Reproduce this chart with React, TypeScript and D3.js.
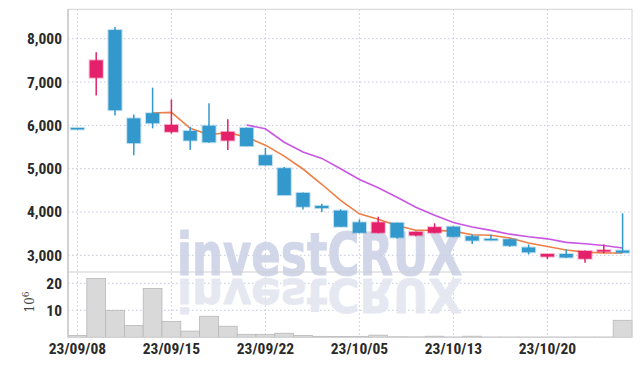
import React from 'react';
import * as d3 from 'd3';

const dates = ['23/09/08','23/09/11','23/09/12','23/09/13','23/09/14','23/09/15','23/09/18','23/09/19','23/09/20','23/09/21','23/09/22','23/09/25','23/09/26','23/09/27','23/10/04','23/10/05','23/10/06','23/10/10','23/10/11','23/10/12','23/10/13','23/10/16','23/10/17','23/10/18','23/10/19','23/10/20','23/10/23','23/10/24','23/10/25','23/10/26'];
const opens  = [5940,7100,8200,6160,6280,5850,5870,5990,5650,5940,5310,5010,4440,4140,4030,3760,3520,3750,3460,3520,3660,3440,3380,3370,3180,2970,3030,2920,3100,3110];
const highs  = [5940,7690,8270,6250,6870,6600,5970,6510,6140,5950,5480,5040,4450,4190,4060,3830,3890,3750,3550,3740,3670,3480,3480,3380,3250,3030,3140,3110,3250,3970];
const lows   = [5940,6690,6230,5310,5930,5810,5430,5600,5430,5520,5080,4390,4060,4000,3660,3520,3510,3390,3440,3510,3420,3260,3350,3200,3020,2910,2940,2830,3050,3060];
const closes = [5940,7500,6350,5590,6050,6010,5650,5610,5850,5520,5080,4390,4120,4090,3660,3520,3760,3410,3540,3650,3430,3340,3350,3220,3070,3030,2950,3100,3120,3060];
const volumes = [0.7,21.8,10.0,4.4,18.1,5.9,2.3,7.8,4.1,1.1,1.1,1.5,0.7,0.35,0.3,0.35,0.8,0.2,0.15,0.4,0.12,0.4,0.1,0.1,0.1,0.1,0.1,0.1,0.1,6.3];
const priceTicks = [3000,4000,5000,6000,7000,8000];
const volTicks = [10,20];
const labelIdx = [0,5,10,15,20,25];

const W = 642, H = 366;
const L = 68, R = 632, TOP = 9.3, MID = 272, BOT = 337.3;

function ma(n: number) {
  return closes.map((_, i) => i < n - 1 ? null : d3.mean(closes.slice(i - n + 1, i + 1)) as number);
}

export default function App() {
  const x = d3.scaleBand<number>().domain(d3.range(dates.length)).range([L, R]).padding(0);
  const bw = x.bandwidth();
  const cx = (i: number) => (x(i) as number) + bw / 2;
  const y = d3.scaleLinear().domain([3000, 8000]).range([255.3, 38.7]);
  const yv = d3.scaleLinear().domain([0, 10]).range([BOT, 310.3]);
  const ma5 = ma(5), ma10 = ma(10);
  const line = d3.line<number | null>().defined(d => d != null).x((_, i) => cx(i)).y(d => y(d as number));
  const font = "'Liberation Sans Narrow','Roboto Condensed','DejaVu Sans Condensed','Arial Narrow',sans-serif";
  const up = '#e5206b', down = '#3399cc';
  const grid = '#c3c8db';
  return (
    <svg width={W} height={H} style={{ position: 'absolute', left: 0, top: 0, background: '#fff' }}>
      <defs>
        <text id="wm" x={177} y={275} textLength={285} lengthAdjust="spacingAndGlyphs"
          fontFamily="'DejaVu Sans','Liberation Sans',sans-serif" fontWeight={700} fontSize={58}>investCRUX</text>
      </defs>
      <rect x={0} y={0} width={W} height={H} fill="#fff" />
      {/* grid */}
      {priceTicks.map(t => (
        <line key={'hg' + t} x1={L} x2={R} y1={y(t)} y2={y(t)} stroke={grid} strokeDasharray="1.5,2.5" strokeWidth={1} />
      ))}
      {volTicks.map(t => (
        <line key={'vg' + t} x1={L} x2={R} y1={yv(t)} y2={yv(t)} stroke={grid} strokeDasharray="1.5,2.5" strokeWidth={1} />
      ))}
      {labelIdx.map(i => (
        <line key={'xg' + i} x1={cx(i)} x2={cx(i)} y1={TOP} y2={BOT} stroke={grid} strokeDasharray="1.5,2.5" strokeWidth={1} />
      ))}
      {/* watermark */}
      <use href="#wm" fill="#cdd3e6" stroke="#cdd3e6" strokeWidth={1} opacity={0.9} />
      <g transform="translate(0,277) scale(1,-0.8) translate(0,-277)">
        <use href="#wm" fill="#e3e6f0" stroke="#e3e6f0" strokeWidth={1} opacity={0.9} />
      </g>
      {/* volume bars */}
      {volumes.map((v, i) => (
        <rect key={'v' + i} x={x(i) as number} width={bw} y={yv(v)} height={BOT - yv(v)} fill="#d9d9d9" stroke="#b8b8b8" strokeWidth={0.8} />
      ))}
      {/* MA lines */}
      <path d={line(ma10) || ''} fill="none" stroke="#c955e3" strokeWidth={1.6} />
      <path d={line(ma5) || ''} fill="none" stroke="#ee7f45" strokeWidth={1.6} />
      {/* candles */}
      {dates.map((_, i) => {
        const o = opens[i], c = closes[i], h = highs[i], l = lows[i];
        const col = c > o ? up : down;
        const top = y(Math.max(o, c)), bot = y(Math.min(o, c));
        const bwid = bw * 0.7;
        return (
          <g key={'c' + i}>
            <line x1={cx(i)} x2={cx(i)} y1={y(h)} y2={y(l)} stroke={col} strokeWidth={1.5} />
            <rect x={cx(i) - bwid / 2} width={bwid} y={top} height={Math.max(bot - top, 1.5)} fill={col} stroke={col} strokeOpacity={0.3} strokeWidth={2} />
          </g>
        );
      })}
      {/* frame */}
      <rect x={L} y={TOP} width={R - L} height={BOT - TOP} fill="none" stroke="#d4d4d8" strokeWidth={1} />
      <line x1={L} x2={R} y1={MID} y2={MID} stroke="#cfcfd4" strokeWidth={1.2} />
      <line x1={L} x2={L} y1={TOP} y2={BOT} stroke="#c8c8cc" strokeWidth={1.5} />
      {/* y labels */}
      {priceTicks.map(t => (
        <text key={'pl' + t} x={62} y={y(t) + 5.5} textAnchor="end" fontFamily={font} fontSize={15.5} fontWeight={700} fill="#2a2a2a">{d3.format(',')(t)}</text>
      ))}
      {volTicks.map(t => (
        <text key={'vl' + t} x={62} y={yv(t) + 5.5} textAnchor="end" fontFamily={font} fontSize={15.5} fontWeight={700} fill="#2a2a2a">{t}</text>
      ))}
      <text transform={`translate(34,302) rotate(-90)`} textAnchor="middle" fontFamily="'DejaVu Serif',serif" fontSize={12} fill="#444">
        10<tspan dy={-5} fontSize={9}>6</tspan>
      </text>
      {/* x labels */}
      {labelIdx.map(i => (
        <text key={'xl' + i} x={cx(i)} y={354} textAnchor="middle" fontFamily={font} fontSize={15.5} fontWeight={700} fill="#2a2a2a">{dates[i]}</text>
      ))}
    </svg>
  );
}
